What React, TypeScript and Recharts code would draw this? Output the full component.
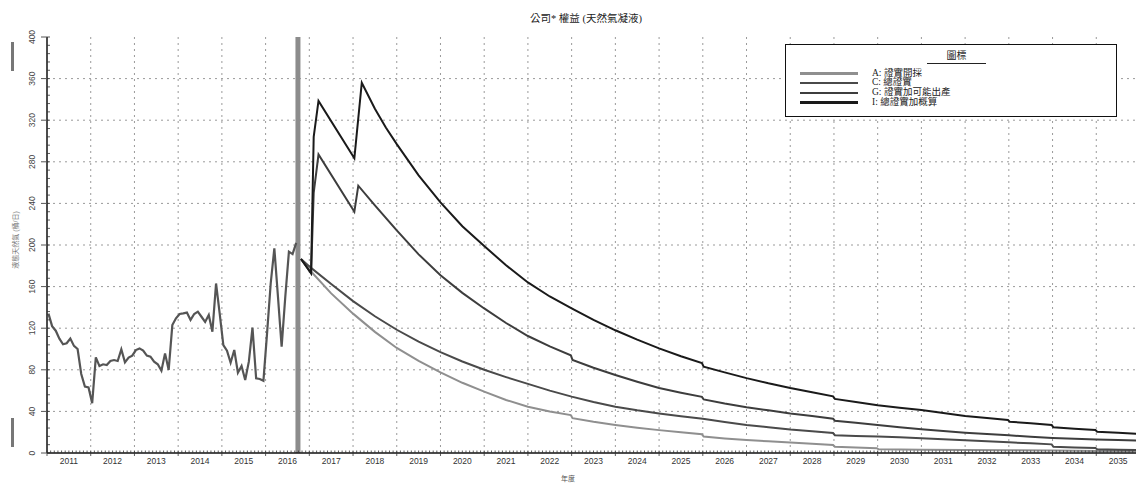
import React from 'react';
import { LineChart, Line, XAxis, YAxis, CartesianGrid, ReferenceLine } from 'recharts';

// ---------- data ----------
const histStartYear = 2011;
const histValues = [
  134, 122, 117.6, 110, 104.5, 105.5, 110, 103, 100, 76, 63.8, 63,
  47.8, 92, 83.6, 85.3, 84.6, 88.5, 89.4, 88.5, 99.7, 87.2, 91.7, 93.6,
  99, 100.6, 98.4, 93.6, 92.6, 87.8, 85.3, 79.2, 95.8, 79.8, 123, 129.5,
  133.7, 134.3, 135, 128, 133.7, 135.9, 131, 126, 132.7, 116.6, 163, 134,
  103.8, 98.4, 86.8, 99, 77.2, 83.6, 70.2, 87.8, 120.5, 71.8, 71.2, 69.5,
  115, 163, 196.8, 150, 102.2, 150, 193.6, 191.3, 202,
];

const aYears = [2016.81, 2017.04, 2017.5, 2018, 2018.5, 2019, 2019.5, 2020, 2020.5, 2021, 2021.5, 2022, 2022.5, 2022.98, 2023.02, 2023.5, 2024, 2024.5, 2025, 2025.5, 2025.98, 2026.02, 2026.5, 2027, 2027.5, 2028, 2028.5, 2028.98, 2029.02, 2029.5, 2029.98, 2030.02, 2031, 2032, 2033, 2034, 2035, 2035.95];
const aValues = [186.5, 174.5, 153.5, 134, 116.5, 101, 88.5, 77.5, 67.5, 59, 51, 44.5, 40, 36.5, 33.5, 30, 27, 24.3, 22, 20, 18, 15.8, 14, 12.5, 11.2, 10, 8.8, 7.7, 6, 5.2, 4.6, 3.5, 3.2, 2.9, 2.6, 2.3, 2, 1.8];

const cYears = [2016.81, 2017.04, 2017.5, 2018, 2018.5, 2019, 2019.5, 2020, 2020.5, 2021, 2021.5, 2022, 2022.5, 2023, 2023.5, 2024, 2024.5, 2025, 2025.5, 2026, 2026.5, 2027, 2027.5, 2028, 2028.5, 2028.98, 2029.02, 2029.5, 2030, 2030.5, 2031, 2031.5, 2032, 2032.5, 2033, 2033.5, 2033.98, 2034.02, 2034.5, 2034.98, 2035.02, 2035.5, 2035.95];
const cValues = [186.5, 178, 162.5, 146, 131.5, 118.5, 107, 97, 88, 80, 73, 66.5, 60, 54.2, 49, 44.5, 41, 38, 35.3, 33, 29.8, 27, 24.7, 22.5, 20.8, 19.2, 17.1, 16.4, 15.8, 15.1, 14.2, 13.2, 12.3, 11.3, 10.3, 9.3, 8.3, 6, 5.4, 4.8, 3.6, 3.2, 2.9];

const gYears = [2016.81, 2017.04, 2017.1, 2017.21, 2018.03, 2018.12, 2018.5, 2019, 2019.5, 2020, 2020.5, 2021, 2021.5, 2022, 2022.5, 2022.98, 2023.02, 2023.5, 2024, 2024.5, 2025, 2025.5, 2025.98, 2026.02, 2026.5, 2027, 2027.5, 2028, 2028.5, 2028.98, 2029.02, 2029.5, 2030, 2030.5, 2031, 2031.5, 2032, 2032.5, 2033, 2033.5, 2034, 2034.5, 2035, 2035.5, 2035.95];
const gValues = [186.5, 172.8, 250, 287, 232, 257, 238, 214, 191, 171, 154, 139, 125, 112.5, 102.5, 94, 89.5, 82, 75, 68.5, 62.5, 58, 54, 51.5, 47.5, 44, 41, 38, 35.5, 33, 31, 29, 27, 24.8, 22.8, 21.1, 19.5, 18.2, 17, 15.7, 14.5, 13.7, 13, 12.4, 11.9];

const iYears = [2016.81, 2017.04, 2017.1, 2017.21, 2018.03, 2018.2, 2018.5, 2018.75, 2019, 2019.5, 2020, 2020.5, 2021, 2021.5, 2022, 2022.5, 2023, 2023.5, 2024, 2024.5, 2025, 2025.5, 2025.98, 2026.02, 2026.5, 2027, 2027.5, 2028, 2028.5, 2028.98, 2029.02, 2029.5, 2030, 2030.5, 2031, 2031.5, 2032, 2032.5, 2032.98, 2033.02, 2033.5, 2033.98, 2034.02, 2034.5, 2034.98, 2035.02, 2035.5, 2035.95];
const iValues = [186.5, 172.8, 304, 338.5, 283.4, 356, 331, 313, 297, 267, 241, 218, 199, 180.5, 164, 150.5, 139, 128, 118, 109, 100.6, 93, 86.5, 83, 77.5, 72, 67, 62.5, 58.5, 54.5, 52, 49, 46, 43.6, 41.3, 38.4, 35.6, 33.6, 31.7, 30.1, 28.5, 26.9, 24.7, 23.4, 22.1, 20.5, 19.4, 18.3];

const seriesNames = ['A: 證實開採', 'C: 總證實', 'G: 證實加可能出產', 'I: 總證實加概算'];
const seriesColors = ['#8f8f8f', '#4a4a4a', '#3d3d3d', '#1a1a1a'];
const histColor = '#555555';

const yearLabels = [2011, 2012, 2013, 2014, 2015, 2016, 2017, 2018, 2019, 2020, 2021, 2022, 2023, 2024, 2025, 2026, 2027, 2028, 2029, 2030, 2031, 2032, 2033, 2034, 2035];
const yLabelTicks = [0, 40, 80, 120, 160, 200, 240, 280, 320, 360, 400];
const forecastStart = 2016.74;

const titleText = '公司* 權益 (天然氣凝液)';
const yTitle = '液態天然氣 (桶/日)';
const xTitle = '年度';
const legendTitle = '圖標';

// ---------- derived tables ----------
const histData = histValues.map((v, i) => ({ x: histStartYear + (i + 0.4) / 12, y: v }));
const mk = (xs: number[], ys: number[]) => xs.map((x, i) => ({ x, y: ys[i] }));
const forecast = [mk(aYears, aValues), mk(cYears, cValues), mk(gYears, gValues), mk(iYears, iValues)];

const X0 = 2011;
const X1 = 2036;
const monthTicks: number[] = [];
for (let k = 0; k <= (X1 - X0) * 12; k++) monthTicks.push(X0 + k / 12);
const yMinorTicks: number[] = [];
for (let v = 0; v <= 400; v += 8) yMinorTicks.push(v);
const gridX = yearLabels.slice(1);
const gridY = yLabelTicks.slice(1, -1);

const sansFont = "'Liberation Sans', Arial, 'Noto Sans CJK TC', sans-serif";
const serifFont = "'Liberation Serif', 'Times New Roman', 'Noto Sans CJK TC', serif";

const BottomTick = (props: any) => {
  const { x, y, payload } = props;
  const k = Math.round((payload.value - X0) * 12);
  const m = ((k % 12) + 12) % 12;
  const yr = X0 + Math.floor(k / 12);
  return (
    <g>
      <line x1={x} x2={x} y1={y} y2={y - 2.5} stroke="#333" strokeWidth={0.8} />
      {m === 0 && <line x1={x} x2={x} y1={y} y2={y + 3} stroke="#333" strokeWidth={0.8} />}
      {m === 6 && yearLabels.includes(yr) && (
        <text x={x} y={y + 8} textAnchor="middle" dominantBaseline="central" fontSize={8.5} fill="#333" fontFamily={sansFont}>
          {yr}
        </text>
      )}
    </g>
  );
};

const TopTick = (props: any) => {
  const { x, y } = props;
  return <line x1={x} x2={x} y1={y} y2={y + 2.5} stroke="#333" strokeWidth={0.8} />;
};

const LeftTick = (props: any) => {
  const { x, y, payload } = props;
  const v = payload.value;
  const major = yLabelTicks.includes(v);
  return (
    <g>
      <line x1={x} x2={x + 3} y1={y} y2={y} stroke="#333" strokeWidth={0.8} />
      {major && <line x1={x - 6} x2={x} y1={y} y2={y} stroke="#555" strokeWidth={1} />}
      {major && (
        <text
          x={x - 15}
          y={y}
          transform={`rotate(-90 ${x - 15} ${y})`}
          textAnchor="middle"
          dominantBaseline="central"
          fontSize={8.5}
          fill="#444"
          fontFamily={sansFont}
        >
          {v}
        </text>
      )}
    </g>
  );
};

export default function App() {
  return (
    <div style={{ position: 'absolute', left: 0, top: 0, width: 1136, height: 484, overflow: 'hidden', background: '#fff' }}>
      <LineChart width={1140} height={484} margin={{ top: 37, right: 0, bottom: 0, left: 0 }}>
        <CartesianGrid
          stroke="#9a9a9a"
          strokeDasharray="2 4"
          verticalValues={gridX}
          horizontalValues={gridY}
        />
        <XAxis
          dataKey="x"
          type="number"
          domain={[X0, X1]}
          allowDataOverflow
          ticks={monthTicks}
          interval={0}
          tickSize={0}
          tickMargin={0}
          tick={<BottomTick />}
          tickLine={false}
          height={31}
          axisLine={{ stroke: '#111', strokeWidth: 1.5 }}
        />
        <XAxis
          xAxisId="top"
          orientation="top"
          dataKey="x"
          type="number"
          domain={[X0, X1]}
          allowDataOverflow
          ticks={monthTicks}
          interval={0}
          tickSize={0}
          tickMargin={0}
          tick={<TopTick />}
          tickLine={false}
          height={0}
          axisLine={{ stroke: '#111', strokeWidth: 1.5 }}
        />
        <YAxis
          type="number"
          domain={[0, 400]}
          ticks={yMinorTicks}
          interval={0}
          tickSize={0}
          tickMargin={0}
          tick={<LeftTick />}
          tickLine={false}
          width={47}
          axisLine={{ stroke: '#111', strokeWidth: 1.5 }}
        />
        <ReferenceLine x={forecastStart} stroke="#8c8c8c" strokeWidth={5} />
        <Line
          data={histData}
          dataKey="y"
          type="linear"
          stroke={histColor}
          strokeWidth={2.2}
          dot={false}
          isAnimationActive={false}
        />
        {forecast.map((d, i) => (
          <Line
            key={i}
            data={d}
            dataKey="y"
            type="linear"
            stroke={seriesColors[i]}
            strokeWidth={2}
            dot={false}
            isAnimationActive={false}
          />
        ))}
      </LineChart>

      {/* title */}
      <div
        style={{
          position: 'absolute',
          left: 586,
          top: 10,
          transform: 'translateX(-50%)',
          fontSize: 10.5,
          fontFamily: serifFont,
          color: '#222',
          whiteSpace: 'nowrap',
        }}
      >
        {titleText}
      </div>

      {/* y title */}
      <div
        style={{
          position: 'absolute',
          left: 15,
          top: 240,
          transform: 'translate(-50%, -50%) rotate(-90deg)',
          fontSize: 7,
          fontFamily: sansFont,
          color: '#777',
          whiteSpace: 'nowrap',
        }}
      >
        {yTitle}
      </div>

      {/* x title */}
      <div
        style={{
          position: 'absolute',
          left: 568,
          top: 478,
          transform: 'translate(-50%, -50%)',
          fontSize: 7,
          fontFamily: sansFont,
          color: '#555',
          whiteSpace: 'nowrap',
        }}
      >
        {xTitle}
      </div>

      {/* side marks */}
      <div style={{ position: 'absolute', left: 11, top: 42, width: 3, height: 29, background: '#777' }} />
      <div style={{ position: 'absolute', left: 11, top: 418, width: 3, height: 29, background: '#777' }} />

      {/* legend */}
      <div
        style={{
          position: 'absolute',
          left: 785,
          top: 44,
          width: 330,
          height: 71,
          border: '1.5px solid #111',
          background: '#fff',
          fontFamily: serifFont,
          color: '#222',
        }}
      >
        <div
          style={{
            position: 'absolute',
            left: 141,
            top: 4,
            width: 59,
            textAlign: 'center',
            fontSize: 10,
            lineHeight: '13px',
            borderBottom: '1.5px solid #222',
            paddingBottom: 1,
          }}
        >
          {legendTitle}
        </div>
        {seriesNames.map((n, i) => (
          <React.Fragment key={n}>
            <div
              style={{
                position: 'absolute',
                left: 14,
                top: 27 + i * 9.8,
                width: 58,
                height: 2.5,
                background: seriesColors[i],
              }}
            />
            <div
              style={{
                position: 'absolute',
                left: 86,
                top: 22.5 + i * 9.8,
                fontSize: 9.5,
                lineHeight: '11px',
                whiteSpace: 'nowrap',
              }}
            >
              {n}
            </div>
          </React.Fragment>
        ))}
      </div>
    </div>
  );
}
